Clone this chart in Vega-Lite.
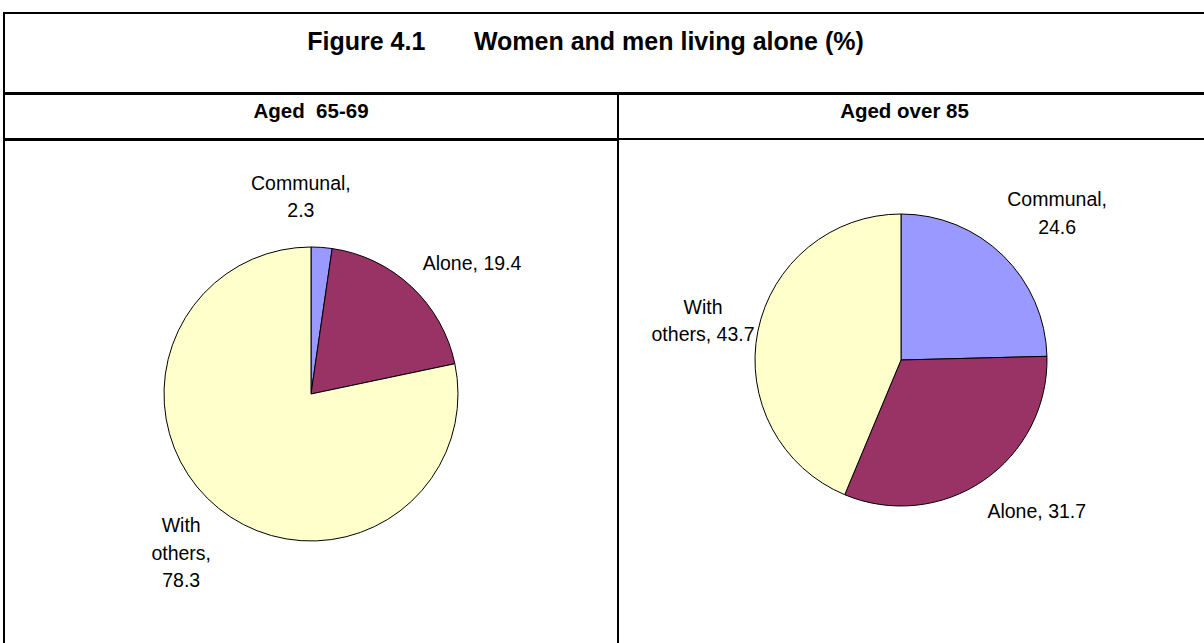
{
  "$schema": "https://vega.github.io/schema/vega-lite/v6.json",
  "padding": {"left": 3, "top": 12, "right": 0, "bottom": 0},
  "spacing": -2,
  "config": {
    "font": "Liberation Sans",
    "view": {"stroke": null},
    "concat": {"spacing": 0}
  },
  "datasets": {
    "pies": [
      {"panel": "65-69", "cat": "Communal", "value": 2.3, "order": 1, "label": "Communal,\n2.3"},
      {"panel": "65-69", "cat": "Alone", "value": 19.4, "order": 2, "label": "Alone, 19.4"},
      {"panel": "65-69", "cat": "With others", "value": 78.3, "order": 3, "label": "With\nothers,\n78.3"},
      {"panel": "over 85", "cat": "Communal", "value": 24.6, "order": 1, "label": "Communal,\n24.6"},
      {"panel": "over 85", "cat": "Alone", "value": 31.7, "order": 2, "label": "Alone, 31.7"},
      {"panel": "over 85", "cat": "With others", "value": 43.7, "order": 3, "label": "With\nothers, 43.7"}
    ]
  },
  "vconcat": [
    {
      "width": 1203,
      "height": 80,
      "data": {"values": [{"title": "Figure 4.1\u00a0\u00a0\u00a0\u00a0\u00a0\u00a0\u00a0Women and men living alone (%)"}]},
      "layer": [
        {
          "mark": {"type": "text", "font": "Liberation Sans", "fontSize": 25, "fontWeight": "bold", "baseline": "alphabetic", "align": "center", "dy": -3, "dx": -20, "color": "black"},
          "encoding": {"text": {"field": "title"}}
        },
        {
          "mark": {"type": "rect", "filled": false, "color": "black", "strokeWidth": 2},
          "encoding": {}
        }
      ]
    },
    {
      "hconcat": [
        {
          "width": 614,
          "height": 45,
          "data": {"values": [{"head": "Aged\u00a0\u00a065-69"}]},
          "layer": [
            {
              "mark": {"type": "text", "font": "Liberation Sans", "fontSize": 20.5, "fontWeight": "bold", "baseline": "alphabetic", "align": "center", "dy": 1.5, "color": "black"},
              "encoding": {"text": {"field": "head"}}
            },
            {
              "mark": {"type": "rect", "filled": false, "color": "black", "strokeWidth": 2},
              "encoding": {}
            }
          ]
        },
        {
          "width": 589,
          "height": 45,
          "data": {"values": [{"head": "Aged over 85"}]},
          "layer": [
            {
              "mark": {"type": "text", "font": "Liberation Sans", "fontSize": 20.5, "fontWeight": "bold", "baseline": "alphabetic", "align": "center", "dy": 1.5, "dx": -8, "color": "black"},
              "encoding": {"text": {"field": "head"}}
            },
            {
              "mark": {"type": "rect", "filled": false, "color": "black", "strokeWidth": 2},
              "encoding": {}
            }
          ]
        }
      ],
      "spacing": 0,
      "bounds": "flush"
    },
    {
      "hconcat": [
        {
          "width": 614,
          "height": 508,
          "layer": [
            {
              "data": {"name": "pies"},
              "transform": [{"filter": "datum.panel === '65-69'"}],
              "encoding": {
                "theta": {"field": "value", "type": "quantitative", "stack": true},
                "order": {"field": "order", "type": "quantitative"}
              },
              "layer": [
                {
                  "mark": {"type": "arc", "radius": 147, "stroke": "black", "strokeWidth": 1},
                  "encoding": {
                    "color": {"field": "cat", "type": "nominal", "legend": null,
                      "scale": {"domain": ["Communal", "Alone", "With others"], "range": ["#9999FF", "#993366", "#FFFFCC"]}}
                  }
                },
                {
                  "mark": {"type": "text", "radius": 206, "font": "Liberation Sans", "fontSize": 19.5, "lineBreak": "\n", "lineHeight": 27.5, "align": "center", "baseline": "middle", "dx": -25, "dy": -5, "color": "black"},
                  "encoding": {"text": {"condition": {"test": "datum.cat === 'Communal'", "field": "label"}, "value": ""}}
                },
                {
                  "mark": {"type": "text", "radius": 206, "font": "Liberation Sans", "fontSize": 19.5, "lineBreak": "\n", "lineHeight": 27.5, "align": "center", "baseline": "middle", "dx": 20, "dy": 20, "color": "black"},
                  "encoding": {"text": {"condition": {"test": "datum.cat === 'Alone'", "field": "label"}, "value": ""}}
                },
                {
                  "mark": {"type": "text", "radius": 206, "font": "Liberation Sans", "fontSize": 19.5, "lineBreak": "\n", "lineHeight": 27.5, "align": "center", "baseline": "middle", "dy": -27.5, "color": "black"},
                  "encoding": {"text": {"condition": {"test": "datum.cat === 'With others'", "field": "label"}, "value": ""}}
                }
              ]
            },
            {
              "data": {"values": [{}]},
              "mark": {"type": "rect", "filled": false, "color": "black", "strokeWidth": 2},
              "encoding": {}
            }
          ]
        },
        {
          "width": 566,
          "height": 440,
          "data": {"name": "pies"},
          "transform": [{"filter": "datum.panel === 'over 85'"}],
          "encoding": {
            "theta": {"field": "value", "type": "quantitative", "stack": true},
            "order": {"field": "order", "type": "quantitative"}
          },
          "layer": [
            {
              "mark": {"type": "arc", "radius": 146, "stroke": "black", "strokeWidth": 1},
              "encoding": {
                "color": {"field": "cat", "type": "nominal", "legend": null,
                  "scale": {"domain": ["Communal", "Alone", "With others"], "range": ["#9999FF", "#993366", "#FFFFCC"]}}
              }
            },
            {
              "mark": {"type": "text", "radius": 205, "font": "Liberation Sans", "fontSize": 19.5, "lineBreak": "\n", "lineHeight": 27.5, "align": "center", "baseline": "middle", "dx": 13, "dy": -13, "color": "black"},
              "encoding": {"text": {"condition": {"test": "datum.cat === 'Communal'", "field": "label"}, "value": ""}}
            },
            {
              "mark": {"type": "text", "radius": 205, "font": "Liberation Sans", "fontSize": 19.5, "lineBreak": "\n", "lineHeight": 27.5, "align": "center", "baseline": "middle", "dx": 20, "dy": -17, "color": "black"},
              "encoding": {"text": {"condition": {"test": "datum.cat === 'Alone'", "field": "label"}, "value": ""}}
            },
            {
              "mark": {"type": "text", "radius": 205, "font": "Liberation Sans", "fontSize": 19.5, "lineBreak": "\n", "lineHeight": 27.5, "align": "center", "baseline": "middle", "dx": 3, "dy": -12, "color": "black"},
              "encoding": {"text": {"condition": {"test": "datum.cat === 'With others'", "field": "label"}, "value": ""}}
            }
          ]
        }
      ],
      "spacing": 0,
      "bounds": "flush"
    }
  ]
}
